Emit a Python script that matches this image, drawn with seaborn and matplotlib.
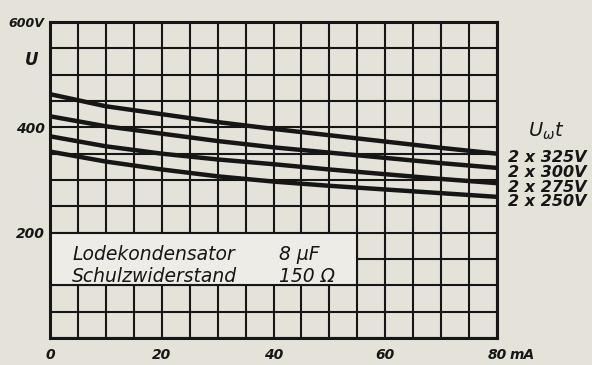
import numpy as np
import pandas as pd
import matplotlib.pyplot as plt
import seaborn as sns
from matplotlib.patches import Rectangle

# Values (U in V over load current in mA)
current_ma = [0, 10, 20, 30, 40, 50, 60, 70, 80]
u_325 = [463, 440, 425, 410, 397, 385, 373, 361, 350]
u_300 = [421, 402, 388, 374, 362, 352, 342, 332, 323]
u_275 = [383, 364, 350, 339, 330, 320, 311, 302, 294]
u_250 = [354, 335, 320, 307, 297, 289, 282, 275, 268]
series_labels = ['2 x 325V', '2 x 300V', '2 x 275V', '2 x 250V']

x_ticks = [0, 20, 40, 60, 80]
x_ticklabels = ['0', '20', '40', '60', '80']
y_ticks = [200, 400, 600]
y_ticklabels = ['200', '400', '600V']

box_lines = ['Lodekondensator', 'Schulzwiderstand']
box_values = ['8 μF', '150 Ω']


def main():
    paper = '#e4e2d9'
    ink = '#161616'

    sns.set_style('white')
    plt.rcParams['font.family'] = ['DejaVu Sans']
    plt.rcParams['mathtext.fontset'] = 'dejavusans'

    df = pd.DataFrame({
        'I': current_ma * 4,
        'U': u_325 + u_300 + u_275 + u_250,
        'Uwt': np.repeat(series_labels, len(current_ma)),
    })

    fig = plt.figure(figsize=(5.92, 3.65), dpi=100, facecolor=paper)
    ax = fig.add_axes([50 / 592, 1 - 338 / 365, 447 / 592, 316 / 365])
    ax.set_facecolor(paper)

    # --- grid: 5 mA by 50 V ---
    ax.set_xlim(0, 80)
    ax.set_ylim(0, 600)
    ax.set_xticks(x_ticks)
    ax.set_xticklabels(x_ticklabels)
    ax.set_xticks(np.arange(0, 81, 5), minor=True)
    ax.set_yticks(y_ticks)
    ax.set_yticklabels(y_ticklabels)
    ax.set_yticks(np.arange(0, 601, 50), minor=True)
    ax.grid(which='both', color=ink, linewidth=1.5)
    ax.set_axisbelow(True)
    ax.tick_params(which='both', length=0)
    ax.tick_params(axis='x', pad=7)
    ax.tick_params(axis='y', pad=4)
    for lab in ax.get_xticklabels() + ax.get_yticklabels():
        lab.set_fontstyle('italic')
        lab.set_fontweight('bold')
        lab.set_fontsize(10)
        lab.set_color(ink)
    ax.get_yticklabels()[-1].set_fontsize(9)
    for sp in ax.spines.values():
        sp.set_linewidth(2.2)
        sp.set_color(ink)

    # --- curves ---
    sns.lineplot(data=df, x='I', y='U', hue='Uwt', palette=[ink] * 4,
                 legend=False, linewidth=3.2, ax=ax, zorder=3)
    ax.set_xlabel('')
    ax.set_ylabel('')

    # --- info box ---
    ax.add_patch(Rectangle((0, 100), 55, 100, facecolor='#edece7',
                           edgecolor=ink, linewidth=1.5, zorder=1))
    for txt, val, yv in zip(box_lines, box_values, [158, 117]):
        ax.text(4, yv, txt, fontsize=13.5, fontstyle='italic', color=ink,
                va='center', ha='left', zorder=4)
        ax.text(41, yv, val, fontsize=13.5, fontstyle='italic', color=ink,
                va='center', ha='left', zorder=4)

    # --- axis texts ---
    ax.text(-0.04, 528, 'U', transform=ax.get_yaxis_transform(),
            fontsize=12, fontstyle='italic', fontweight='bold', color=ink,
            ha='center', va='center')
    ax.annotate('mA', xy=(80, 0), xycoords='data', xytext=(9, -12.3),
                textcoords='offset points', fontsize=10, fontstyle='italic',
                fontweight='bold', color=ink, ha='left', va='center',
                annotation_clip=False)

    # --- curve labels at right ---
    ends = [u_325[-1], u_300[-1], u_275[-1], u_250[-1]]
    for lab, yv in zip(series_labels, ends):
        ax.annotate(lab, xy=(1.025, yv), xycoords=ax.get_yaxis_transform(),
                    xytext=(0, -3), textcoords='offset points',
                    fontsize=11.5, fontstyle='italic', fontweight='bold',
                    color=ink, ha='left', va='center', annotation_clip=False)
    ax.text(1.11, 392, r'$U_{\omega}t$', transform=ax.get_yaxis_transform(),
            fontsize=14, color=ink, ha='center', va='center')

    fig.savefig('out.png', dpi=100, facecolor=paper)


if __name__ == '__main__':
    main()
